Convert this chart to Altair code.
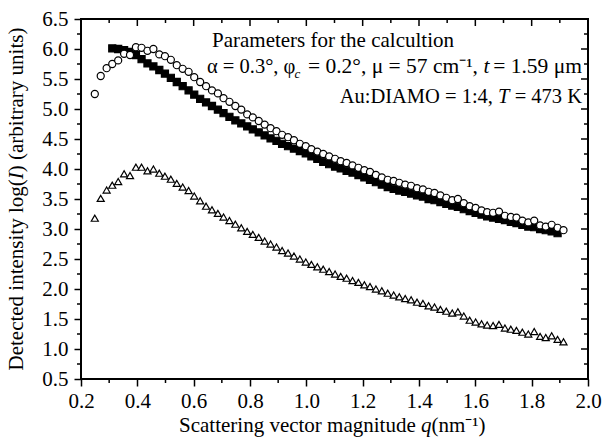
import altair as alt
import pandas as pd

FONT = "Liberation Serif"

# scattering vector magnitude q (nm^-1) of each measured point
q = [0.249, 0.270, 0.291, 0.311, 0.332, 0.353, 0.374, 0.395, 0.415, 0.436,
     0.457, 0.478, 0.498, 0.519, 0.540, 0.561, 0.582, 0.602, 0.623, 0.644,
     0.665, 0.686, 0.706, 0.727, 0.748, 0.769, 0.790, 0.810, 0.831, 0.852,
     0.873, 0.894, 0.914, 0.935, 0.956, 0.977, 0.998, 1.018, 1.039, 1.060,
     1.081, 1.102, 1.122, 1.143, 1.164, 1.185, 1.206, 1.226, 1.247, 1.268,
     1.289, 1.310, 1.330, 1.351, 1.372, 1.393, 1.414, 1.434, 1.455, 1.476,
     1.497, 1.518, 1.538, 1.559, 1.580, 1.601, 1.622, 1.642, 1.663, 1.684,
     1.705, 1.726, 1.746, 1.767, 1.788, 1.809, 1.830, 1.850, 1.871, 1.892,
     1.913]

# open circles
circles = [5.25, 5.55, 5.68, 5.75, 5.81, 5.92, 5.90, 6.03, 6.02, 5.97,
           6.00, 5.91, 5.88, 5.82, 5.73, 5.67, 5.62, 5.53, 5.45, 5.38,
           5.31, 5.26, 5.18, 5.12, 5.05, 4.99, 4.91, 4.86, 4.80, 4.74,
           4.68, 4.63, 4.57, 4.53, 4.48, 4.42, 4.38, 4.33, 4.29, 4.25,
           4.21, 4.17, 4.13, 4.10, 4.06, 4.02, 3.98, 3.95, 3.90, 3.86,
           3.82, 3.80, 3.77, 3.74, 3.72, 3.68, 3.66, 3.62, 3.60, 3.56,
           3.52, 3.48, 3.50, 3.43, 3.38, 3.35, 3.31, 3.28, 3.27, 3.29,
           3.22, 3.20, 3.19, 3.14, 3.11, 3.14, 3.06, 3.04, 3.07, 3.02,
           2.98]

# filled squares (start at the 4th q value, stop at the next-to-last)
q_squares = q[3:80]
squares = [6.01, 6.00, 5.98, 5.95, 5.90, 5.83, 5.76,
           5.71, 5.65, 5.59, 5.52, 5.45, 5.38, 5.31, 5.24, 5.17, 5.11,
           5.05, 4.99, 4.93, 4.87, 4.81, 4.76, 4.71, 4.66, 4.61, 4.56,
           4.51, 4.47, 4.42, 4.38, 4.34, 4.30, 4.26, 4.21, 4.17, 4.12,
           4.08, 4.04, 4.01, 3.97, 3.94, 3.90, 3.86, 3.82, 3.78, 3.74,
           3.70, 3.67, 3.64, 3.62, 3.59, 3.56, 3.54, 3.50, 3.48, 3.45,
           3.42, 3.39, 3.37, 3.33, 3.30, 3.27, 3.24, 3.21, 3.19, 3.17,
           3.15, 3.12, 3.10, 3.07, 3.04, 3.03, 3.00, 2.98, 2.96, 2.93]

# open triangles
triangles = [3.18, 3.51, 3.65, 3.73, 3.79, 3.92, 3.89, 4.03, 4.03, 3.97,
             4.00, 3.93, 3.88, 3.83, 3.76, 3.70, 3.64, 3.55, 3.47, 3.38,
             3.32, 3.26, 3.20, 3.14, 3.08, 3.02, 2.96, 2.91, 2.86, 2.80,
             2.75, 2.70, 2.64, 2.60, 2.55, 2.50, 2.45, 2.41, 2.37, 2.33,
             2.29, 2.25, 2.21, 2.18, 2.14, 2.11, 2.07, 2.04, 2.00, 1.97,
             1.93, 1.90, 1.87, 1.84, 1.82, 1.78, 1.76, 1.72, 1.70, 1.66,
             1.63, 1.60, 1.62, 1.55, 1.48, 1.45, 1.42, 1.40, 1.39, 1.41,
             1.35, 1.33, 1.31, 1.28, 1.25, 1.29, 1.21, 1.19, 1.22, 1.16,
             1.12]

x_major = [0.2, 0.4, 0.6, 0.8, 1.0, 1.2, 1.4, 1.6, 1.8, 2.0]
x_minor = [0.3, 0.5, 0.7, 0.9, 1.1, 1.3, 1.5, 1.7, 1.9]
y_major = [0.5, 1.0, 1.5, 2.0, 2.5, 3.0, 3.5, 4.0, 4.5, 5.0, 5.5, 6.0, 6.5]
y_minor = [0.75, 1.25, 1.75, 2.25, 2.75, 3.25, 3.75, 4.25, 4.75, 5.25,
           5.75, 6.25]

series = ["squares", "circles", "triangles"]
rows = []
for xv, yv in zip(q_squares, squares):
    rows.append({"q": xv, "v": yv, "s": "squares"})
for xv, yv in zip(q, circles):
    rows.append({"q": xv, "v": yv, "s": "circles"})
for xv, yv in zip(q, triangles):
    rows.append({"q": xv, "v": yv, "s": "triangles"})
df = pd.DataFrame(rows)

W, H = 507, 360
MAJ, MIN = 7, 4


def xs():
    return alt.Scale(domain=[0.2, 2.0], nice=False, zero=False)


def ys():
    return alt.Scale(domain=[0.5, 6.5], nice=False, zero=False)


ax = dict(labelFont=FONT, labelFontSize=21, labelColor="black",
          tickColor="black", tickWidth=1.5, domain=False, grid=False,
          labelFlush=False, labelOverlap=False, title=None)

data_layer = alt.Chart(df).mark_point(
    filled=True, stroke="black", strokeWidth=1.2, opacity=1, size=50
).encode(
    x=alt.X("q:Q", scale=xs(), axis=alt.Axis(
        orient="bottom", values=x_major, format=".1f", tickSize=MAJ,
        labelPadding=4, **ax)),
    y=alt.Y("v:Q", scale=ys(), axis=alt.Axis(
        orient="left", values=y_major, format=".1f", tickSize=MAJ,
        labelPadding=6, **ax)),
    shape=alt.Shape("s:N", scale=alt.Scale(domain=series,
                    range=["square", "circle", "triangle-up"]), legend=None),
    fill=alt.Fill("s:N", scale=alt.Scale(domain=series,
                  range=["black", "white", "white"]), legend=None),
)


def xticks(vals, y0, y1):
    return alt.Chart(pd.DataFrame({"t": vals})).mark_rule(
        color="black", strokeWidth=1.5
    ).encode(x=alt.X("t:Q", scale=xs(), axis=None),
             y=alt.value(y0), y2=alt.value(y1))


def yticks(vals, x0, x1):
    return alt.Chart(pd.DataFrame({"t": vals})).mark_rule(
        color="black", strokeWidth=1.5
    ).encode(y=alt.Y("t:Q", scale=ys(), axis=None),
             x=alt.value(x0), x2=alt.value(x1))


tick_layers = [
    xticks(x_minor, H, H + MIN),          # bottom minor (outward)
    yticks(y_minor, 0, -MIN),             # left minor (outward)
    xticks(x_major, 0, MAJ),              # top major (pointing down)
    xticks(x_minor, 0, MIN),              # top minor
    yticks(y_major, W, W - MAJ),          # right major (pointing left)
    yticks(y_minor, W, W - MIN),          # right minor
]

one = pd.DataFrame({"a": [0]})


def txt(text, x, y, align="left", size=21, style="normal", angle=0):
    return alt.Chart(one).mark_text(
        text=text, font=FONT, fontSize=size, fontStyle=style, align=align,
        baseline="alphabetic", color="black", angle=angle
    ).encode(x=alt.value(x), y=alt.value(y))


texts = [
    # annotation box (positions relative to the plot area)
    txt("Parameters for the calcultion", 131, 28),
    txt("\u03b1 = 0.3\u00b0, \u03c6", 126, 54, size=20.5),
    txt("c", 213.5, 59, size=13, style="italic"),
    txt("= 0.2\u00b0, \u03bc = 57 cm\u207b\u00b9,", 397, 54, align="right",
        size=21.5),
    txt("t", 402.5, 54, size=21.5, style="italic"),
    txt("= 1.59 \u03bcm", 501, 54, align="right", size=21.5),
    txt("Au:DIAMO = 1:4,", 412, 84, align="right", size=20.5),
    txt("T", 417, 84, size=20.5, style="italic"),
    txt("= 473 K", 501, 84, align="right", size=20.5),
    # x axis title
    txt("Scattering vector magnitude", 98, 413),
    txt("q", 340, 413, style="italic"),
    txt("(nm\u207b\u00b9)", 350.5, 413),
    # y axis title (reads bottom to top)
    txt("Detected intensity log(", -58, 351.5, angle=270),
    txt("I", -58, 160.2, angle=270, style="italic"),
    txt(") (arbitrary units)", -58, 153.2, angle=270),
]

chart = alt.layer(
    data_layer,
    *tick_layers,
    *texts,
).resolve_scale(x="independent", y="independent").properties(
    width=W, height=H,
    padding={"left": 81, "top": 19, "right": 16, "bottom": 62},
    autosize=alt.AutoSizeParams(type="none"),
    background="white",
).configure_view(stroke="black", strokeWidth=2)

chart.save("out.html", embed_options={"renderer": "svg", "actions": False})
